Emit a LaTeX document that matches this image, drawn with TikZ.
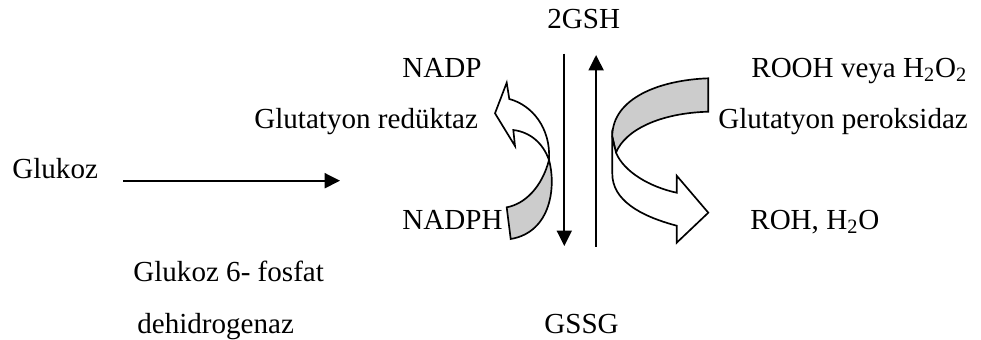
\documentclass[tikz,border=0pt]{standalone}
\usepackage{fontspec}
\setmainfont{Liberation Serif}
\usetikzlibrary{arrows.meta}
\tikzset{
    label/.style={anchor=base west, inner sep=0pt, font=\fontsize{16.55}{19}\selectfont},
    flow/.style={line width=1pt, -{Triangle[length=8.7pt, width=8.5pt]}},
    band/.style={line width=0.95pt, line join=miter},
}
\begin{document}
\begin{tikzpicture}[x=0.02cm, y=-0.02cm]
    \useasboundingbox (0,0) rectangle (981,339);
    \node[label] (gsh) at (547,28) {2GSH};
    \node[label] (nadp) at (402,77) {NADP};
    \node[label] (rooh) at (751,77) {ROOH veya H\textsubscript{2}O\textsubscript{2}};
    \node[label] (reduktaz) at (254,128) {Glutatyon redüktaz};
    \node[label] (peroksidaz) at (718,128) {Glutatyon peroksidaz};
    \node[label] (glukoz) at (12,178) {Glukoz};
    \node[label] (nadph) at (402,229) {NADPH};
    \node[label] (roh) at (750,229) {ROH, H\textsubscript{2}O};
    \node[label] (fosfat) at (133,281) {Glukoz 6- fosfat};
    \node[label] (dehidro) at (137,333) {dehidrogenaz};
    \node[label] (gssg) at (544,333) {GSSG};
    % free ends of the straight arrows
    \coordinate (glukozstart) at (123,180.7);
    \coordinate (glukozend) at (340,180.7);
    \coordinate (downtop) at (564.3,53.5);
    \coordinate (downend) at (564.3,246);
    \coordinate (upbottom) at (596.1,246.7);
    \coordinate (upend) at (596.1,55);
    \draw[flow, line width=1.15pt] (glukozstart) -- (glukozend);
    \draw[flow] (downtop) -- (downend);
    \draw[flow] (upbottom) -- (upend);
    % left ribbon
    \draw[band, fill=black!20] (506.7,207.3) .. controls (525,204) and (542,187) .. (549,160)
        .. controls (556,185) and (552,232) .. (510.7,239) -- cycle;
    \draw[band, fill=white] (549,160) .. controls (543,143) and (530,132) .. (513.3,130)
        -- (515,146) -- (495,113.3) -- (506.7,82.7) -- (509.3,99)
        .. controls (532,105) and (551,128) .. (549,160) -- cycle;
    % right ribbon
    \draw[band, fill=black!20] (708.3,78.3) .. controls (660,80) and (612,98) .. (612.3,136.7)
        -- (616,152.7) .. controls (625,130) and (660,113) .. (708.3,111.7) -- cycle;
    \draw[band, fill=white] (616,152.7) .. controls (624,172) and (650,187) .. (676.7,192.7)
        -- (676.7,175.7) -- (708.3,212.7) -- (676.7,242.7) -- (676.7,225.7)
        .. controls (640,216) and (612,200) .. (612.3,173.3) -- (612.3,136.7) -- cycle;
\end{tikzpicture}
\end{document}
